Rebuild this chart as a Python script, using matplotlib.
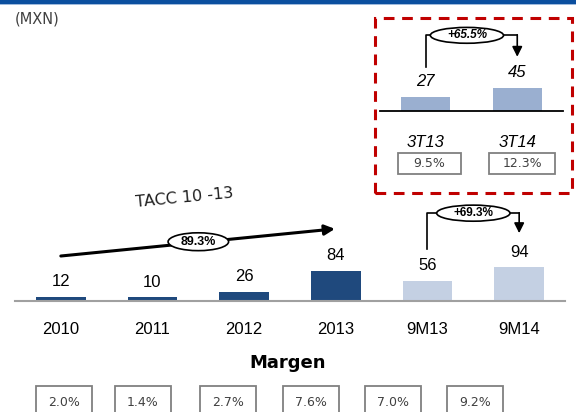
import numpy as np
import matplotlib
matplotlib.use("Agg")
import matplotlib.pyplot as plt
from matplotlib.patches import Rectangle, Ellipse

# ==== Data ====
categories = ["2010", "2011", "2012", "2013", "9M13", "9M14"]
values = [12, 10, 26, 84, 56, 94]
margins = ["2.0%", "1.4%", "2.7%", "7.6%", "7.0%", "9.2%"]
q_categories = ["3T13", "3T14"]
q_values = [27, 45]
q_margins = ["9.5%", "12.3%"]
tacc_label = "89.3%"
growth_9m = "+69.3%"
growth_q = "+65.5%"

dark_blue = "#1f497d"
light_blue = "#c4d0e3"
mid_blue = "#9aafd0"
W, H = 576, 412

def fx(x):
    return x / W

def fy(y):
    return 1 - y / H

def oval(axis, cx, cy, w, h, label, **kw):
    axis.add_patch(Ellipse((cx, cy), w, h, fc="white", ec="black", lw=1.2,
                           zorder=5, clip_on=False))
    axis.text(cx, cy, label, ha="center", va="center", fontweight="bold",
              zorder=6, **kw)

fig = plt.figure(figsize=(5.76, 4.12), dpi=100)
plt.rcParams['font.family'] = ['Liberation Sans', 'DejaVu Sans']
gothic = "DejaVu Sans"

# ==== Top band ====
fig.add_artist(Rectangle((0, fy(4)), 1, 4 / H, transform=fig.transFigure,
                         color="#0b4f9f", lw=0))
fig.add_artist(Rectangle((0, fy(5)), 1, 1 / H, transform=fig.transFigure,
                         color="#9fbadc", lw=0))
fig.text(fx(15), fy(19), "(MXN)", fontsize=10.5, color="#404040",
         family=gothic, va="center")

# ==== Main chart ====
ax = fig.add_axes([fx(15), fy(301), fx(565) - fx(15), (301 - 20) / H])
ax.patch.set_alpha(0)
x = np.arange(len(categories))
colors = [dark_blue] * 4 + [light_blue] * 2
ax.bar(x, values, width=0.54, color=colors)
ax.set_xlim(-0.5, 5.5)
ax.set_ylim(0, 787)
for s in ["top", "left", "right"]:
    ax.spines[s].set_visible(False)
ax.spines["bottom"].set_color("#a0a0a0")
ax.spines["bottom"].set_linewidth(1.5)
ax.set_yticks([])
ax.set_xticks(x)
ax.set_xticklabels(categories, fontsize=12)
ax.tick_params(axis="x", length=0, pad=15)
for xi, v in zip(x, values):
    ax.annotate(str(v), (xi, v), xytext=(0, 11), textcoords="offset points",
                ha="center", va="center", fontsize=12)

# TACC arrow
y0, y1 = values[0] + 114, values[3] + 118
ax.annotate("", xy=(2.99, y1), xytext=(0, y0),
            arrowprops=dict(arrowstyle="-|>,head_length=0.6,head_width=0.3",
                            color="black", lw=2.2, shrinkA=0, shrinkB=0))
oval(ax, 1.5, (y0 + y1) / 2 + 2, 0.66, 50, tacc_label, fontsize=9)
ax.text(1.35, 288, "TACC 10 -13", ha="center", va="center", fontsize=11.5,
        family=gothic, rotation=5.5, color="#202020")

# 9M growth connector
top = 246
ax.plot([4, 4, 5], [values[4] + 90, top, top], color="black", lw=1.2)
ax.annotate("", xy=(5, values[5] + 96), xytext=(5, top + 1),
            arrowprops=dict(arrowstyle="-|>,head_length=0.6,head_width=0.3",
                            color="black", lw=1.2, shrinkA=0, shrinkB=0))
oval(ax, 4.5, top, 0.8, 45, growth_9m, fontsize=8.5)

# ==== Margins ====
fig.text(0.5, fy(363), "Margen", ha="center", va="center", fontsize=13,
         fontweight="bold", family=gothic)
box_left = [36, 115, 200, 283, 365, 447]
for bl, m in zip(box_left, margins):
    fig.add_artist(Rectangle((fx(bl), fy(418)), 56 / W, 32 / H,
                             transform=fig.transFigure, fc="white",
                             ec="#808080", lw=1.3))
    fig.text(fx(bl + 28), fy(402), m, ha="center", va="center", fontsize=9,
             color="#404040", family=gothic)

# ==== Quarter inset ====
fig.add_artist(Rectangle((fx(375), fy(193)), (572 - 375) / W, (193 - 18) / H,
                         transform=fig.transFigure, fill=False, ec="#c00000",
                         lw=2.2, ls=(0, (3.5, 2.5))))
ax2 = fig.add_axes([fx(380), fy(111), fx(563) - fx(380), (111 - 20) / H])
ax2.patch.set_alpha(0)
qx = np.arange(len(q_categories))
ax2.bar(qx, q_values, width=0.54, color=mid_blue)
ax2.set_xlim(-0.5, 1.5)
ax2.set_ylim(0, 178)
for s in ["top", "left", "right"]:
    ax2.spines[s].set_visible(False)
ax2.spines["bottom"].set_linewidth(1.3)
ax2.set_yticks([])
ax2.set_xticks(qx)
ax2.set_xticklabels(q_categories, fontsize=12, style="italic")
ax2.tick_params(axis="x", length=0, pad=17)
for xi, v in zip(qx, q_values):
    ax2.annotate(str(v), (xi, v), xytext=(0, 11), textcoords="offset points",
                 ha="center", va="center", fontsize=12, style="italic")
qtop = 148
ax2.plot([0, 0, 1], [q_values[0] + 59, qtop, qtop], color="black", lw=1.2)
ax2.annotate("", xy=(1, q_values[1] + 61), xytext=(1, qtop + 1),
             arrowprops=dict(arrowstyle="-|>,head_length=0.6,head_width=0.3",
                             color="black", lw=1.2, shrinkA=0, shrinkB=0))
oval(ax2, 0.45, qtop, 0.8, 31, growth_q, fontsize=8.5, style="italic")
q_box_left = [398, 489]
q_box_w = [63, 66]
for bl, bw, m in zip(q_box_left, q_box_w, q_margins):
    fig.add_artist(Rectangle((fx(bl), fy(174)), bw / W, 21 / H,
                             transform=fig.transFigure, fc="white",
                             ec="#808080", lw=1.3))
    fig.text(fx(bl + bw / 2), fy(163.5), m, ha="center", va="center",
             fontsize=9, color="#404040", family=gothic)

fig.savefig("out.png", dpi=100)
